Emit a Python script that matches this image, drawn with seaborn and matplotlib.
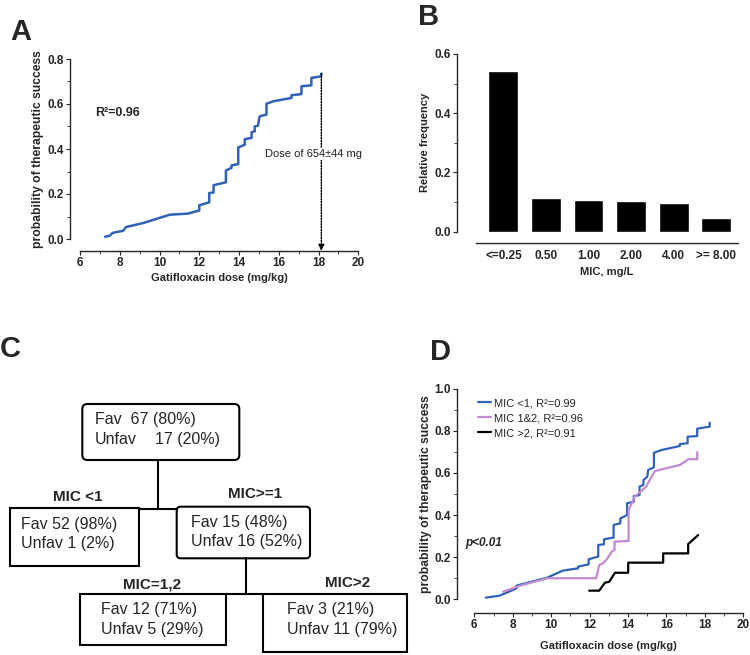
import matplotlib
matplotlib.use('Agg')
import matplotlib.pyplot as plt
import seaborn as sns
from matplotlib.patches import Rectangle, FancyBboxPatch
from matplotlib.ticker import MultipleLocator

# panel A: probability of success vs dose (all patients)
a_dose = [7.26, 7.51, 7.64, 8.18, 8.31, 9.18, 10.52, 11.44, 12.0, 12.0, 12.5, 12.5, 12.72, 12.72,
          13.34, 13.34, 13.62, 13.62, 13.96, 13.96, 14.29, 14.29, 14.63, 14.63, 14.79, 14.79,
          14.96, 15.0, 15.04, 15.38, 15.38, 15.72, 16.64, 16.64, 17.14, 17.14, 17.64, 17.64,
          18.14, 18.14]
a_prob = [0.010, 0.015, 0.027, 0.037, 0.053, 0.071, 0.108, 0.113, 0.127, 0.150, 0.163, 0.204,
          0.207, 0.239, 0.252, 0.305, 0.316, 0.327, 0.333, 0.407, 0.419, 0.444, 0.449, 0.474,
          0.479, 0.500, 0.504, 0.530, 0.545, 0.553, 0.601, 0.612, 0.627, 0.639, 0.644, 0.679,
          0.683, 0.716, 0.723, 0.735]
dose_arrow = 18.14

# panel B: MIC distribution
mic_labels = ['<=0.25', '0.50', '1.00', '2.00', '4.00', '>= 8.00']
rel_freq = [0.544, 0.115, 0.108, 0.102, 0.097, 0.046]

# panel D: curves by MIC group
blue_dose = [6.6, 7.3, 7.6, 8.2, 8.2, 9.0, 9.8, 10.6, 11.4, 11.4, 11.95, 11.95, 12.45, 12.45,
             12.75, 12.75, 13.25, 13.25, 13.6, 13.6, 13.95, 13.95, 14.3, 14.3, 14.6, 14.6,
             14.8, 14.8, 15.0, 15.05, 15.35, 15.35, 15.75, 16.7, 16.7, 17.1, 17.1, 17.6, 17.6,
             18.25, 18.25]
blue_prob = [0.008, 0.017, 0.028, 0.052, 0.065, 0.084, 0.103, 0.136, 0.147, 0.155, 0.166, 0.19,
             0.203, 0.258, 0.261, 0.285, 0.293, 0.353, 0.361, 0.384, 0.40, 0.456, 0.464, 0.49,
             0.495, 0.535, 0.543, 0.566, 0.582, 0.614, 0.627, 0.696, 0.709, 0.728, 0.737,
             0.741, 0.772, 0.775, 0.81, 0.82, 0.839]
purple_dose = [7.5, 8.4, 9.8, 12.35, 12.4, 12.5, 12.7, 12.9, 13.15, 13.3, 13.3, 14.03, 14.03,
               14.35, 14.95, 15.15, 15.4, 16.7, 17.15, 17.6, 17.6]
purple_prob = [0.036, 0.065, 0.10, 0.10, 0.123, 0.163, 0.171, 0.19, 0.226, 0.235, 0.274, 0.277,
               0.424, 0.487, 0.535, 0.57, 0.609, 0.638, 0.665, 0.665, 0.698]
black_dose = [11.98, 12.5, 12.8, 13.02, 13.32, 14.01, 14.01, 15.83, 15.83, 17.13, 17.13, 17.65]
black_prob = [0.041, 0.041, 0.079, 0.083, 0.126, 0.126, 0.174, 0.174, 0.218, 0.218, 0.262, 0.305]
group_labels = ['MIC <1, R²=0.99', 'MIC 1&2, R²=0.96', 'MIC >2, R²=0.91']

blue = '#2f62b8'
purple = '#c28ad0'

sns.set_style('ticks')
plt.rcParams['font.family'] = ['Liberation Sans', 'DejaVu Sans']
plt.rcParams['font.weight'] = 'bold'
plt.rcParams['axes.labelweight'] = 'bold'
plt.rcParams['axes.labelsize'] = 8
plt.rcParams['xtick.labelsize'] = 8.5
plt.rcParams['ytick.labelsize'] = 8.5
plt.rcParams['axes.linewidth'] = 1.0
plt.rcParams['xtick.major.size'] = 3
plt.rcParams['ytick.major.size'] = 3
plt.rcParams['xtick.minor.size'] = 2
plt.rcParams['ytick.minor.size'] = 2
plt.rcParams['xtick.major.pad'] = 1.5
plt.rcParams['ytick.major.pad'] = 1.5

W, H = 750, 655
fig = plt.figure(figsize=(7.5, 6.55), dpi=100)


def px_axes(left, right, bottom, top):
    return fig.add_axes([left / W, 1 - bottom / H, (right - left) / W, (bottom - top) / H])


# panel C: decision tree drawn in pixel coordinates
axC = fig.add_axes([0, 0, 1, 1])
axC.set_xlim(0, W)
axC.set_ylim(H, 0)
axC.axis('off')

lw = 1.5
axC.add_patch(FancyBboxPatch((82.3, 404), 157, 56, boxstyle='round,pad=0,rounding_size=5',
                             fill=False, lw=lw, ec='black'))
axC.add_patch(Rectangle((10, 507.7), 129, 58.3, fill=False, lw=lw, ec='black'))
axC.add_patch(FancyBboxPatch((176.7, 506.7), 133.3, 51.6, boxstyle='round,pad=0,rounding_size=4',
                             fill=False, lw=lw, ec='black'))
axC.add_patch(Rectangle((80, 594.3), 146, 50.7, fill=False, lw=lw, ec='black'))
axC.add_patch(Rectangle((263.3, 594.3), 144, 57.4, fill=False, lw=lw, ec='black'))
axC.plot([158, 158], [460, 509], color='black', lw=lw)
axC.plot([139, 176.7], [509, 509], color='black', lw=lw)
axC.plot([246, 246], [558.3, 594.3], color='black', lw=lw)
axC.plot([226, 263.3], [594.3, 594.3], color='black', lw=lw)

box_font = dict(fontsize=11.5, fontweight='normal', va='baseline', ha='left')
axC.text(95, 424.3, 'Fav  67 (80%)', **box_font)
axC.text(95, 444, 'Unfav', **box_font)
axC.text(155, 444, '17 (20%)', **box_font)
axC.text(21, 529.3, 'Fav 52 (98%)', **box_font)
axC.text(21, 548.3, 'Unfav 1 (2%)', **box_font)
axC.text(191, 526.7, 'Fav 15 (48%)', **box_font)
axC.text(191, 546, 'Unfav 16 (52%)', **box_font)
axC.text(101, 614.3, 'Fav 12 (71%)', **box_font)
axC.text(101, 634, 'Unfav 5 (29%)', **box_font)
axC.text(286.7, 614.3, 'Fav 3 (21%)', **box_font)
axC.text(286.7, 634, 'Unfav 11 (79%)', **box_font)

lab_font = dict(fontsize=11, fontweight='bold', va='baseline', ha='center')
axC.text(77.7, 501, 'MIC <1', **lab_font)
axC.text(255.3, 498.3, 'MIC>=1', **lab_font)
axC.text(152.5, 588.3, 'MIC=1,2', **lab_font)
axC.text(348, 586.7, 'MIC>2', **lab_font)

# panel letters
for x, y, s in [(10, 40, 'A'), (418, 25, 'B'), (0, 357, 'C'), (430, 360, 'D')]:
    axC.text(x, y, s, fontsize=21, fontweight='bold', va='baseline', ha='left')

# panel A
axA = px_axes(80, 358.3, 239, 59)
sns.lineplot(x=a_dose, y=a_prob, sort=False, estimator=None, color=blue, lw=1.8, ax=axA)
axA.set_xlim(6, 20)
axA.set_ylim(0, 0.8)
axA.xaxis.set_major_locator(MultipleLocator(2))
axA.xaxis.set_minor_locator(MultipleLocator(1))
axA.yaxis.set_major_locator(MultipleLocator(0.2))
axA.yaxis.set_minor_locator(MultipleLocator(0.1))
sns.despine(ax=axA)
axA.spines['left'].set_position(('outward', 7.2))
axA.spines['bottom'].set_position(('outward', 8.6))
axA.set_xlabel('Gatifloxacin dose (mg/kg)', labelpad=3)
axA.set_ylabel('probability of therapeutic success', labelpad=2, fontsize=8.7)
axA.annotate('', xy=(dose_arrow, -0.053), xytext=(dose_arrow, a_prob[-1]),
             xycoords='data', annotation_clip=False,
             arrowprops=dict(arrowstyle='-|>', ls=(0, (1, 1)), lw=1.0, color='black',
                             shrinkA=0, shrinkB=0, mutation_scale=9))
axA.text(17.77, 0.378, 'Dose of 654±44 mg', fontsize=8, fontweight='normal', ha='center',
         va='center', color='#222222',
         bbox=dict(facecolor='white', edgecolor='none', pad=1))
axA.text(6.75, 0.56, 'R²=0.96', fontsize=9, fontweight='bold', ha='left', va='center')

# panel B
axB = px_axes(475.7, 738, 231.7, 54)
sns.barplot(x=mic_labels, y=rel_freq, color='black', saturation=1, width=0.7, ax=axB)
axB.set_xlim(-0.65, 5.51)
axB.set_ylim(0, 0.6)
axB.yaxis.set_major_locator(MultipleLocator(0.2))
axB.yaxis.set_minor_locator(MultipleLocator(0.1))
axB.tick_params(axis='x', length=0, pad=5)
sns.despine(ax=axB)
axB.spines['left'].set_position(('outward', 13.2))
axB.spines['bottom'].set_position(('outward', 8.1))
axB.set_xlabel('MIC, mg/L', labelpad=4)
axB.set_ylabel('Relative frequency', labelpad=3)

# panel D
axD = px_axes(474.3, 743.3, 599.3, 388.7)
sns.lineplot(x=blue_dose, y=blue_prob, sort=False, estimator=None, color=blue, lw=1.6,
             label=group_labels[0], ax=axD)
sns.lineplot(x=purple_dose, y=purple_prob, sort=False, estimator=None, color=purple, lw=1.6,
             label=group_labels[1], ax=axD)
sns.lineplot(x=black_dose, y=black_prob, sort=False, estimator=None, color='black', lw=1.6,
             label=group_labels[2], ax=axD)
axD.set_xlim(6, 20)
axD.set_ylim(0, 1.0)
axD.xaxis.set_major_locator(MultipleLocator(2))
axD.xaxis.set_minor_locator(MultipleLocator(1))
axD.yaxis.set_major_locator(MultipleLocator(0.2))
axD.yaxis.set_minor_locator(MultipleLocator(0.1))
sns.despine(ax=axD)
axD.spines['left'].set_position(('outward', 12.2))
axD.spines['bottom'].set_position(('outward', 10))
axD.set_xlabel('Gatifloxacin dose (mg/kg)', labelpad=7)
axD.set_ylabel('probability of therapeutic success', labelpad=2, fontsize=8.7)
axD.legend(frameon=False, loc='upper left', bbox_to_anchor=(0.015, 0.955), borderaxespad=0,
           borderpad=0, handlelength=1.1, handletextpad=0.3, labelspacing=0.45,
           prop={'weight': 'normal', 'size': 8})
axD.text(5.52, 0.266, 'p<0.01', fontsize=8.5, fontweight='bold', fontstyle='italic',
         ha='left', va='center')

fig.savefig('out.png', dpi=100)
